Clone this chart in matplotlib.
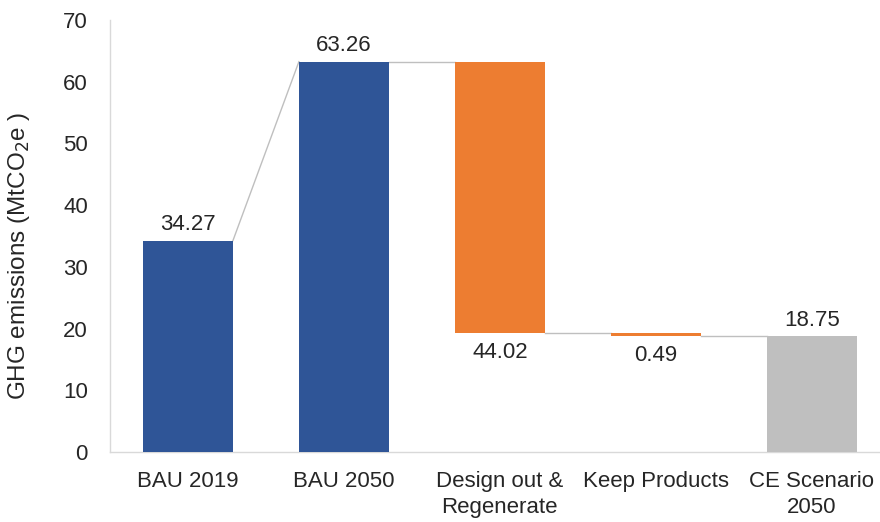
import matplotlib
matplotlib.use("Agg")
import matplotlib.pyplot as plt

categories = ["BAU 2019", "BAU 2050", "Design out &\nRegenerate", "Keep Products", "CE Scenario\n2050"]
values = [34.27, 63.26, -44.02, -0.49, 18.75]
kinds = ["total", "total", "delta", "delta", "total"]
y_ticks = [0, 10, 20, 30, 40, 50, 60, 70]

colors = {"BAU": "#2F5597", "delta": "#ED7D31", "final": "#BFBFBF"}

plt.rcParams["font.family"] = ["Liberation Sans", "DejaVu Sans"]
FS = 16

fig = plt.figure(figsize=(8.8, 5.22), dpi=100)
ax = fig.add_axes([0.125, 0.134, 0.886, 0.8276])

width = 0.577
bottoms, tops = [], []
running = 0.0
for v, k in zip(values, kinds):
    if k == "total":
        b, t = 0.0, v
        running = v
    else:
        b, t = running + v, running
        running = running + v
    bottoms.append(b)
    tops.append(t)

bar_colors = [colors["BAU"], colors["BAU"], colors["delta"], colors["delta"], colors["final"]]
x = list(range(len(categories)))
ax.bar(x, [t - b for b, t in zip(bottoms, tops)], bottom=bottoms, width=width,
       color=bar_colors, zorder=3)

# connector lines: from the level where each bar ends to the start of the next
levels_out = [bottoms[i] if k == "delta" else tops[i] for i, k in enumerate(kinds)]
levels_in = [tops[i] for i in range(len(kinds))]
for i in range(len(x) - 1):
    y0 = levels_out[i]
    y1 = levels_in[i + 1] if kinds[i + 1] == "total" and i + 1 == 1 else y0
    ax.plot([x[i] + width / 2, x[i + 1] - width / 2], [y0, y1],
            color="#BFBFBF", lw=1.0, zorder=2)

# value labels
for i, (v, k) in enumerate(zip(values, kinds)):
    if k == "delta":
        ax.annotate(f"{abs(v):.2f}", (x[i], bottoms[i]), xytext=(0, -6),
                    textcoords="offset points", ha="center", va="top", fontsize=FS, color="#262626")
    else:
        ax.annotate(f"{v:.2f}", (x[i], tops[i]), xytext=(0, 4),
                    textcoords="offset points", ha="center", va="bottom", fontsize=FS, color="#262626")

ax.set_xlim(-0.5, 4.5)
ax.set_ylim(0, 70)
ax.set_yticks(y_ticks)
ax.set_xticks(x)
ax.set_xticklabels(categories, fontsize=FS, color="#262626", linespacing=1.3)
ax.tick_params(axis="y", labelsize=FS, labelcolor="#262626", length=0, pad=16)
ax.tick_params(axis="x", length=0, pad=14)
for s in ["top", "right"]:
    ax.spines[s].set_visible(False)
for s in ["left", "bottom"]:
    ax.spines[s].set_color("#D9D9D9")
    ax.spines[s].set_linewidth(1.0)
ax.set_ylabel("GHG emissions (MtCO$_2$e )", fontsize=17.5, color="#262626")
ax.yaxis.set_label_coords(-0.1, 0.455)

fig.savefig("out.png", dpi=100)
